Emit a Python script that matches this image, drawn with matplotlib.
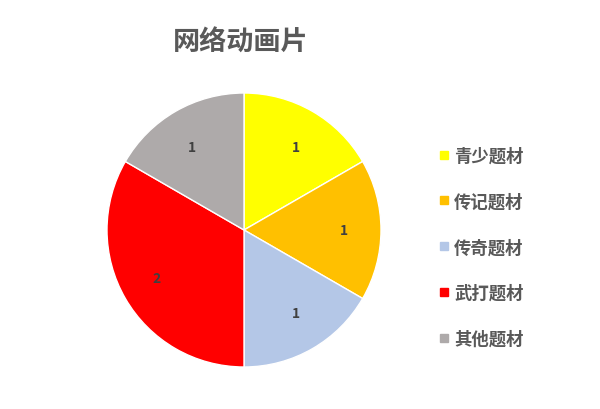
import matplotlib
matplotlib.use("Agg")
import matplotlib.pyplot as plt
from matplotlib.lines import Line2D

plt.rcParams['font.family'] = ['Noto Sans CJK SC', 'DejaVu Sans']

# data
categories = ["青少题材", "传记题材", "传奇题材", "武打题材", "其他题材"]
counts = [1, 1, 1, 2, 1]
colors = ["#FFFF00", "#FFC000", "#B4C7E7", "#FF0000", "#AEAAAA"]
title = "网络动画片"

fig = plt.figure(figsize=(6, 4.1), dpi=100)
# pie centred at about (244, 231) px, radius 137 px
ax = fig.add_axes([(244 - 137) / 600, (410 - 231 - 137) / 410, 274 / 600, 274 / 410])

wedges, texts = ax.pie(counts, colors=colors, startangle=90, counterclock=False,
                       labels=[str(c) for c in counts], labeldistance=0.7,
                       wedgeprops=dict(edgecolor="white", linewidth=1),
                       textprops=dict(color="#404040", fontsize=10, fontweight="bold"))
ax.set_xlim(-1, 1)
ax.set_ylim(-1, 1)
ax.set_aspect("equal")

fig.text(241 / 600, 1 - 43 / 410, title, ha="center", va="center",
         fontsize=19.5, color="#595959", fontweight="bold")

handles = [Line2D([0], [0], marker="s", linestyle="none", markersize=5.5,
                  markerfacecolor=c, markeredgecolor=c) for c in colors]
leg = fig.legend(handles, categories, loc="upper left",
                 bbox_to_anchor=(428 / 600, 1 - 139 / 410), frameon=False,
                 labelcolor="#595959", handlelength=0.8,
                 handletextpad=0.2, labelspacing=1.6, borderpad=0,
                 prop=dict(weight="bold", size=12.5))

fig.savefig("out.png", dpi=100)
